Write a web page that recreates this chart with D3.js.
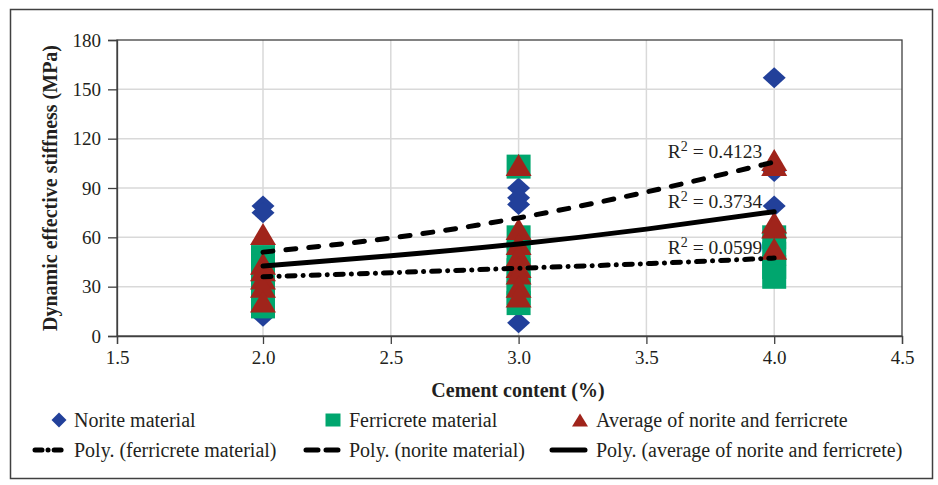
<!DOCTYPE html>
<html>
<head>
<meta charset="utf-8">
<script src="https://cdn.jsdelivr.net/npm/d3@7/dist/d3.min.js"></script>
<style>
  body { margin: 0; background: #fff; }
  svg { display: block; }
</style>
</head>
<body>
<script>
// values
let noriteX = [2, 2, 2, 3, 3, 3, 3, 3, 4, 4, 4];
let noriteY = [79, 75, 12, 104, 90, 84, 80, 8, 157, 100, 79];

let ferriX = [2, 2, 2, 2, 2, 2, 3, 3, 3, 3, 3, 3, 3, 4, 4, 4, 4];
let ferriY = [48, 42, 36, 30, 24, 18, 103, 60, 50, 40, 32, 26, 20, 60, 50, 42, 36];

let avgX = [2, 2, 2, 2, 2, 2, 3, 3, 3, 3, 3, 3, 3, 3, 4, 4, 4, 4, 4];
let avgY = [62, 44, 40, 35, 30, 21, 104, 65, 56, 49, 42, 38, 30, 24, 107, 104, 69, 66, 53];

// polynomial trendlines as drawn in the reference
let trendX = [2, 2.5, 3, 3.5, 4];
let trendNorite = [51, 59.6, 71.8, 87.6, 105.8];
let trendAvg = [42.6, 48.8, 56, 65, 75.6];
let trendFerri = [36, 38.5, 41.2, 44, 47.4];

let r2Labels = ['0.4123', '0.3734', '0.0599'];

let xTicks = [1.5, 2.0, 2.5, 3.0, 3.5, 4.0, 4.5];
let yTicks = [0, 30, 60, 90, 120, 150, 180];

let width = 938;
let height = 485;
let margins = { top: 40, bottom: 149, left: 117, right: 36 };

let font = "'Liberation Serif', 'Times New Roman', serif";
let axisColor = '#404040';
let textColor = '#231f20';
let blue = '#22409a';
let green = '#00a66e';
let red = '#a0241b';

// the reference axis has a wider first interval (1.5 -> 2.0) than the rest
let xScale = d3.scaleLinear([1.5, 2, 4.5], [margins.left, 263, width - margins.right]);
let yScale = d3.scaleLinear([0, 180], [height - margins.bottom, margins.top]);

let svg = d3.create('svg')
  .attr('width', width)
  .attr('height', height);

// outer frame
svg.append('rect')
  .attr('x', 10.5)
  .attr('y', 9.5)
  .attr('width', 922)
  .attr('height', 469)
  .attr('fill', 'none')
  .attr('stroke', axisColor)
  .attr('stroke-width', 1.5);

// gridlines
svg.append('g')
  .selectAll('line')
  .data(yTicks.slice(1, -1))
  .join('line')
  .attr('x1', margins.left)
  .attr('x2', width - margins.right)
  .attr('y1', d => yScale(d))
  .attr('y2', d => yScale(d))
  .attr('stroke', '#d9d9d9')
  .attr('stroke-width', 1.5);

svg.append('g')
  .selectAll('line')
  .data(xTicks.slice(1, -1))
  .join('line')
  .attr('x1', d => xScale(d))
  .attr('x2', d => xScale(d))
  .attr('y1', margins.top)
  .attr('y2', height - margins.bottom)
  .attr('stroke', '#d9d9d9')
  .attr('stroke-width', 1.5);

// plot border
svg.append('rect')
  .attr('x', margins.left)
  .attr('y', margins.top)
  .attr('width', width - margins.left - margins.right)
  .attr('height', height - margins.top - margins.bottom)
  .attr('fill', 'none')
  .attr('stroke', axisColor)
  .attr('stroke-width', 1.3);

let xAxis = d3.axisBottom(xScale)
  .tickValues(xTicks)
  .tickFormat(d3.format('.1f'))
  .tickSizeOuter(0)
  .tickSize(8)
  .tickPadding(7);

let yAxis = d3.axisLeft(yScale)
  .tickValues(yTicks)
  .tickSizeOuter(0)
  .tickSize(9)
  .tickPadding(7);

svg.append('g')
  .attr('transform', `translate(0,${height - margins.bottom})`)
  .call(xAxis)
  .call(g => g.selectAll('path, line').attr('stroke', axisColor).attr('stroke-width', 1.3))
  .call(g => g.selectAll('text').attr('font-family', font).attr('font-size', 19).attr('fill', textColor));

svg.append('g')
  .attr('transform', `translate(${margins.left},0)`)
  .call(yAxis)
  .call(g => g.selectAll('path, line').attr('stroke', axisColor).attr('stroke-width', 1.3))
  .call(g => g.selectAll('text').attr('font-family', font).attr('font-size', 19).attr('fill', textColor));

// marker shapes
function diamond(w, h) {
  return `M0,${-h / 2}L${w / 2},0L0,${h / 2}L${-w / 2},0Z`;
}
function triangle(w, h) {
  return `M0,${-h / 2}L${w / 2},${h / 2}L${-w / 2},${h / 2}Z`;
}
function square(w, h) {
  return `M${-w / 2},${-h / 2}h${w}v${h}h${-w}Z`;
}

function drawMarkers(xs, ys, shape, color) {
  svg.append('g')
    .selectAll('path')
    .data(d3.zip(xs, ys))
    .join('path')
    .attr('transform', d => `translate(${xScale(d[0])},${yScale(d[1])})`)
    .attr('d', shape)
    .attr('fill', color);
}

drawMarkers(noriteX, noriteY, diamond(23, 21), blue);
drawMarkers(ferriX, ferriY, square(24, 24), green);
drawMarkers(avgX, avgY, triangle(26, 22), red);

// trendlines
let trendLine = d3.line()
  .x(d => xScale(d[0]))
  .y(d => yScale(d[1]))
  .curve(d3.curveNatural);

let trends = [
  { values: trendNorite, dash: '10,13', label: r2Labels[0] },
  { values: trendAvg, dash: null, label: r2Labels[1] },
  { values: trendFerri, dash: '8,8,0.1,8', label: r2Labels[2] },
];

trends.forEach(t => {
  svg.append('path')
    .datum(d3.zip(trendX, t.values))
    .attr('d', trendLine)
    .attr('fill', 'none')
    .attr('stroke', '#000')
    .attr('stroke-width', 5)
    .attr('stroke-linecap', 'round')
    .attr('stroke-dasharray', t.dash);

  let label = svg.append('text')
    .attr('x', xScale(4) - 12)
    .attr('y', yScale(t.values[t.values.length - 1]) - 4)
    .attr('text-anchor', 'end')
    .attr('font-family', font)
    .attr('font-size', 19.5)
    .attr('fill', textColor);
  label.append('tspan').text('R');
  label.append('tspan').text('2').attr('dy', -7).attr('font-size', 14);
  label.append('tspan').text(' = ' + t.label).attr('dy', 7);
});

// axis titles
svg.append('text')
  .text('Cement content (%)')
  .attr('x', 518)
  .attr('y', 397)
  .attr('font-family', font)
  .attr('font-weight', 'bold')
  .attr('font-size', 20)
  .attr('text-anchor', 'middle')
  .attr('fill', textColor);

svg.append('text')
  .text('Dynamic effective stiffness (MPa)')
  .attr('transform', 'rotate(-90)')
  .attr('x', -(margins.top + 0.5 * (height - margins.top - margins.bottom)))
  .attr('y', 57)
  .attr('font-family', font)
  .attr('font-weight', 'bold')
  .attr('font-size', 20)
  .attr('text-anchor', 'middle')
  .attr('fill', textColor);

// legend
let legendMarkers = [
  { name: 'Norite material', shape: diamond(15, 15), color: blue, x: 59 },
  { name: 'Ferricrete material', shape: square(15, 13), color: green, x: 333 },
  { name: 'Average of norite and ferricrete', shape: triangle(16, 13), color: red, x: 580 },
];
let legendLines = [
  { name: 'Poly. (ferricrete material)', dash: '7,6,0.1,6', x1: 35, x2: 63 },
  { name: 'Poly. (norite material)', dash: '12,8', x1: 306, x2: 339 },
  { name: 'Poly. (average of norite and ferricrete)', dash: null, x1: 552, x2: 585 },
];
let textX = [74, 349, 596];

legendMarkers.forEach((d, i) => {
  svg.append('path')
    .attr('transform', `translate(${d.x},420)`)
    .attr('d', d.shape)
    .attr('fill', d.color);
  svg.append('text')
    .text(d.name)
    .attr('x', textX[i])
    .attr('y', 420)
    .attr('dy', '0.35em')
    .attr('font-family', font)
    .attr('font-size', 20)
    .attr('fill', textColor);
});

legendLines.forEach((d, i) => {
  svg.append('line')
    .attr('x1', d.x1)
    .attr('x2', d.x2)
    .attr('y1', 450)
    .attr('y2', 450)
    .attr('stroke', '#000')
    .attr('stroke-width', 5)
    .attr('stroke-linecap', 'round')
    .attr('stroke-dasharray', d.dash);
  svg.append('text')
    .text(d.name)
    .attr('x', textX[i])
    .attr('y', 450)
    .attr('dy', '0.35em')
    .attr('font-family', font)
    .attr('font-size', 20)
    .attr('fill', textColor);
});

document.body.prepend(svg.node());
</script>
</body>
</html>
